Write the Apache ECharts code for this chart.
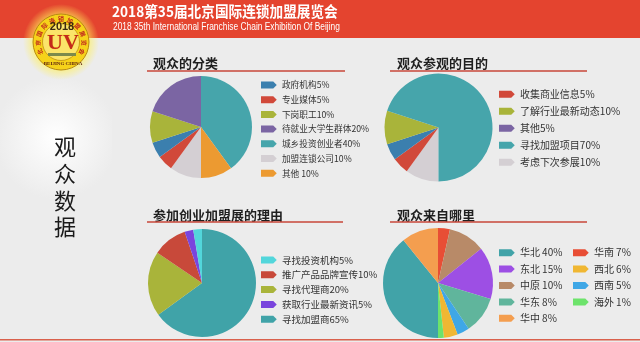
<!DOCTYPE html>
<html><head><meta charset="utf-8">
<script src="https://cdn.jsdelivr.net/npm/echarts@6/dist/echarts.min.js"></script>
<style>html,body{margin:0;padding:0;background:#ececec}#c{width:640px;height:342px}</style>
</head><body><div id="c"></div>
<script>
// ---- data ----
const titles = ['观众的分类','观众参观的目的','参加创业加盟展的理由','观众来自哪里'];

const cats1 = ['政府机构5%','专业媒体5%','下岗职工10%','待就业大学生群体20%','城乡投资创业者40%','加盟连锁公司10%','其他 10%'];
const vals1 = [5,5,10,20,40,10,10];
const cols1 = ['#3b7fae','#d1493a','#a9b43a','#7b65a3','#46a5ab','#d4cfd3','#ec9a31'];
const order1 = [4,6,5,1,0,2,3];

const cats2 = ['收集商业信息5%','了解行业最新动态10%','其他5%','寻找加盟项目70%','考虑下次参展10%'];
const vals2 = [5,10,5,70,10];
const cols2 = ['#d1493a','#a9b43a','#3b7fae','#46a5ab','#d4cfd3'];
const legCols2 = ['#d1493a','#a9b43a','#7b65a3','#46a5ab','#d4cfd3'];
const order2 = [4,0,2,1,3];

const cats3 = ['寻找投资机构5%','推广产品品牌宣传10%','寻找代理商20%','获取行业最新资讯5%','寻找加盟商65%'];
const vals3 = [2.6,10.3,19.5,2.6,65];
const cols3 = ['#52d6db','#c8493a','#a9b43a','#7a45dd','#40a3a8'];
const order3 = [4,2,1,3,0];

const cats4 = ['华北 40%','东北 15%','中原 10%','华东 8%','华中 8%','华南 7%','西北 6%','西南 5%','海外 1%'];
const vals4 = [39.2,15.4,10.8,10.9,10.8,3.5,4.1,3.6,1.7];
const cols4 = ['#41a3a8','#9d4fe4','#b88a68','#60b59c','#f49e4f','#e84e35','#f0b733','#3fa7e6','#6de36b'];
const order4 = [5,2,1,3,7,6,8,0,4];

const sideTitle = ['观','众','数','据'];
const headTitle = '2018第35届北京国际连锁加盟展览会';
const headSub = '2018 35th International Franchise Chain Exhibition Of Beijing';
const ringText = '北京国际连锁加盟展览会';

// ---- build ----
const FONT = '"Noto Sans CJK SC", "Noto Sans", sans-serif';
function pieData(cats, vals, cols, order){
  return order.map(i => ({name: cats[i], value: vals[i], itemStyle:{color: cols[i]}}));
}
function pie(center, r, data, start){
  return {type:'pie', center:center, radius:r, startAngle:start, clockwise:true,
    label:{show:false}, labelLine:{show:false}, emphasis:{disabled:true},
    itemStyle:{borderWidth:0}, animation:false, silent:true, data:data};
}
const ARROW = 'path://M0,0 L14,0 L18,4 L14,8 L0,8 Z';
function legend(names, left, top, gap, fs, colors){
  return {orient:'vertical', left:left, top:top, padding:0, itemGap:gap, itemWidth:18, itemHeight:7,
    icon:ARROW, selectedMode:false,
    textStyle:{fontFamily:FONT, fontSize:fs, color:'#333', lineHeight:12, padding:[0,0,0,-1]},
    data: names.map((n,i)=> colors ? {name:n, itemStyle:{color:colors[i]}} : n)};
}

const graphics = [];
// background glow left
graphics.push({type:'rect', shape:{x:0,y:38,width:112,height:302}, z:-10,
  style:{fill:{type:'radial', x:0.5, y:0.33, r:0.55, colorStops:[{offset:0,color:'#ffffff'},{offset:1,color:'#ececec'}]}}});
// header
graphics.push({type:'rect', shape:{x:0,y:0,width:640,height:38}, z:-5, style:{fill:'#e4442f'}});
graphics.push({type:'text', x:112, y:11, z:5, scaleX:0.91, style:{text:headTitle, fill:'#fff', font:'bold 15px '+FONT, textVerticalAlign:'middle'}});
graphics.push({type:'text', x:113, y:27, z:5, scaleX:0.8, style:{text:headSub, fill:'#fff', font:'10.5px "Liberation Sans", Arial, sans-serif', textVerticalAlign:'middle'}});
// bottom line
graphics.push({type:'rect', shape:{x:0,y:339,width:640,height:1.5}, z:-5, style:{fill:'#d9604c'}});
// logo
const LX=61, LY=42;
graphics.push({type:'circle', shape:{cx:LX,cy:LY,r:38}, z:1, style:{fill:{type:'radial',x:0.5,y:0.5,r:0.5,colorStops:[{offset:0.6,color:'rgba(255,240,90,0.9)'},{offset:1,color:'rgba(255,240,90,0)'}]}}});
graphics.push({type:'circle', shape:{cx:LX,cy:LY,r:28}, z:2, style:{fill:'#f6d21a', stroke:'#b88a10', lineWidth:1}});
graphics.push({type:'circle', shape:{cx:LX,cy:LY,r:18.5}, z:2, style:{fill:'#fbe46a', stroke:'#c09010', lineWidth:0.8}});
for (let i=0;i<ringText.length;i++){
  const th = (205 - i*(230/(ringText.length-1))) * Math.PI/180;
  graphics.push({type:'text', x:LX+23*Math.cos(th), y:LY-23*Math.sin(th), rotation:th-Math.PI/2, z:3,
    style:{text:ringText[i], fill:'#c0281c', font:'bold 6px '+FONT, textAlign:'center', textVerticalAlign:'middle'}});
}
graphics.push({type:'text', x:LX+1, y:LY-15, z:3, style:{text:'2018', fill:'#3a2a10', font:'bold 11px "Liberation Sans", Arial, sans-serif', textAlign:'center', textVerticalAlign:'middle'}});
graphics.push({type:'text', x:LX+2, y:LY+1, z:3, style:{text:'UV', fill:'#c42a1a', stroke:'#f7e04a', lineWidth:1, font:'bold 22px "Liberation Serif", serif', textAlign:'center', textVerticalAlign:'middle'}});
graphics.push({type:'rect', shape:{x:LX-13,y:LY+11,width:28,height:3}, z:3, style:{fill:'#7c8a4c'}});
graphics.push({type:'text', x:LX+2, y:LY+22, z:3, style:{text:'BEIJING CHINA', fill:'#5a2010', font:'bold 5px "Liberation Serif", serif', textAlign:'center', textVerticalAlign:'middle'}});
// side title
sideTitle.forEach((ch,i)=>{
  graphics.push({type:'text', x:65, y:147+i*26.7, z:5, style:{text:ch, fill:'#1a1a1a', font:'22px '+FONT, textAlign:'center', textVerticalAlign:'middle'}});
});
// panel titles and underlines
const tpos = [[153,63,147,345,71],[397,63,390,587,71],[153,215,147,343,222],[397,215,390,587,222]];
titles.forEach((t,i)=>{
  const p = tpos[i];
  graphics.push({type:'text', x:p[0], y:p[1], z:5, style:{text:t, fill:'#1f1f1f', font:'bold 13px '+FONT, textVerticalAlign:'middle'}});
  graphics.push({type:'rect', shape:{x:p[2], y:p[4]-0.75, width:p[3]-p[2], height:1.5}, z:5, style:{fill:'#c9473a'}});
});

const chart = echarts.init(document.getElementById('c'), null, {renderer:'canvas'});
chart.setOption({
  backgroundColor:'#ececec',
  animation:false,
  graphic: graphics,
  legend: [
    legend(cats1, 261, 79, 2.7, 8.7, null),
    legend(cats2, 499, 88.3, 5, 10, legCols2),
    legend(cats3, 261, 254, 2.8, 9.5, null),
    legend(cats4.slice(0,5), 499, 246.7, 4.4, 10, null),
    legend(cats4.slice(5), 573, 246.7, 4.4, 10, null)
  ],
  series: [
    pie([201,127], 51, pieData(cats1, vals1, cols1, order1), 90),
    pie([438.5,127.5], 54, pieData(cats2, vals2, cols2, order2), -90),
    pie([202,283], 54, pieData(cats3, vals3, cols3, order3), 90),
    pie([438,283], 55, pieData(cats4, vals4, cols4, order4), 90)
  ]
});
</script></body></html>
